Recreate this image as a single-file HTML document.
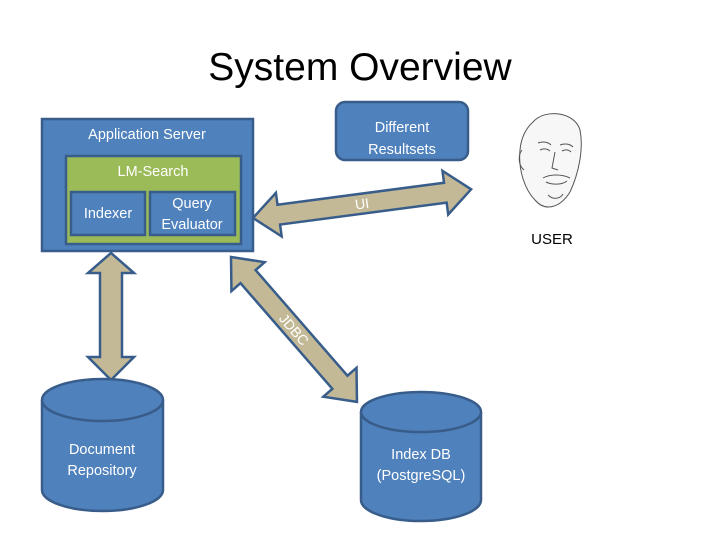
<!DOCTYPE html>
<html><head><meta charset="utf-8"><style>
html,body{margin:0;padding:0;background:#fff;}
svg{display:block;}
text{font-family:"Liberation Sans",sans-serif;}
</style></head><body>
<svg width="720" height="540" viewBox="0 0 720 540" xmlns="http://www.w3.org/2000/svg">
<rect width="720" height="540" fill="#fff"/>
<text x="360" y="80" font-size="39" text-anchor="middle" fill="#000">System Overview</text>

<!-- Application server -->
<rect x="42" y="119" width="211" height="132" fill="#4f81bd" stroke="#385d8a" stroke-width="2.5"/>
<text x="147" y="139" font-size="14.5" fill="#fff" text-anchor="middle">Application Server</text>
<rect x="66" y="156" width="175" height="88" fill="#9bbb59" stroke="#385d8a" stroke-width="2.5"/>
<text x="153" y="176" font-size="14.5" fill="#fff" text-anchor="middle">LM-Search</text>
<rect x="71" y="192" width="74" height="43" fill="#4f81bd" stroke="#385d8a" stroke-width="2.5"/>
<text x="108" y="218" font-size="14.5" fill="#fff" text-anchor="middle">Indexer</text>
<rect x="150" y="192" width="85" height="43" fill="#4f81bd" stroke="#385d8a" stroke-width="2.5"/>
<text x="192" y="208" font-size="14.5" fill="#fff" text-anchor="middle">Query</text>
<text x="192" y="229" font-size="14.5" fill="#fff" text-anchor="middle">Evaluator</text>

<!-- Different Resultsets -->
<rect x="336" y="102" width="132" height="58" rx="9" fill="#4f81bd" stroke="#385d8a" stroke-width="2.5"/>
<text x="402" y="132" font-size="14.5" fill="#fff" text-anchor="middle">Different</text>
<text x="402" y="154" font-size="14.5" fill="#fff" text-anchor="middle">Resultsets</text>

<!-- UI arrow -->
<g transform="translate(253,218) rotate(-7.5)">
<polygon points="0,0 26,-22 26,-10 194,-10 194,-22 220,0 194,22 194,10 26,10 26,22" fill="#c4b996" stroke="#385d8a" stroke-width="2.5"/>
<text x="110" y="5" font-size="14" fill="#fff" text-anchor="middle">UI</text>
</g>

<!-- JDBC arrow -->
<g transform="translate(231,257) rotate(49)">
<polygon points="0,0 26,-22 26,-10 166,-10 166,-22 192,0 166,22 166,10 26,10 26,22" fill="#c4b996" stroke="#385d8a" stroke-width="2.5"/>
<text x="96" y="5" font-size="14" fill="#fff" text-anchor="middle">JDBC</text>
</g>

<!-- Vertical arrow -->
<polygon points="111,253 134,273 122,273 122,357 134,357 111,380 88,357 100,357 100,273 88,273" fill="#c4b996" stroke="#385d8a" stroke-width="2.5"/>

<!-- Doc repository cylinder -->
<path d="M42,400 L42,490 A60.5,21 0 0 0 163,490 L163,400" fill="#4f81bd" stroke="#385d8a" stroke-width="2.5"/>
<ellipse cx="102.5" cy="400" rx="60.5" ry="21" fill="#4f81bd" stroke="#385d8a" stroke-width="2.5"/>
<text x="102" y="454" font-size="14.5" fill="#fff" text-anchor="middle">Document</text>
<text x="102" y="475" font-size="14.5" fill="#fff" text-anchor="middle">Repository</text>

<!-- Index DB cylinder -->
<path d="M361,412 L361,500 A60,21 0 0 0 481,500 L481,412" fill="#4f81bd" stroke="#385d8a" stroke-width="2.5"/>
<ellipse cx="421" cy="412" rx="60" ry="20" fill="#4f81bd" stroke="#385d8a" stroke-width="2.5"/>
<text x="421" y="459" font-size="14.5" fill="#fff" text-anchor="middle">Index DB</text>
<text x="421" y="480" font-size="14.5" fill="#fff" text-anchor="middle">(PostgreSQL)</text>

<!-- Face sketch -->
<g fill="none" stroke="#555" stroke-width="1">
<path d="M533,122 C545,108 575,112 580,130 C584,150 578,175 570,192 C560,208 545,212 535,200 C525,190 518,170 520,150 C521,138 526,128 533,122 Z" fill="#f7f7f7"/>
<path d="M522,150 C518,155 518,165 524,170"/>
<path d="M538,143 C543,141 548,142 551,145 M560,145 C565,143 570,144 573,147"/>
<path d="M540,150 C544,148 548,149 550,151 M562,151 C566,149 569,150 571,152"/>
<path d="M555,152 L552,168 L558,170"/>
<path d="M543,178 C550,174 562,174 570,178 M546,182 C552,185 562,185 567,181"/>
<path d="M548,195 C553,200 560,199 563,194"/>
</g>
<text x="552" y="244" font-size="15" fill="#000" text-anchor="middle">USER</text>
</svg>
</body></html>
